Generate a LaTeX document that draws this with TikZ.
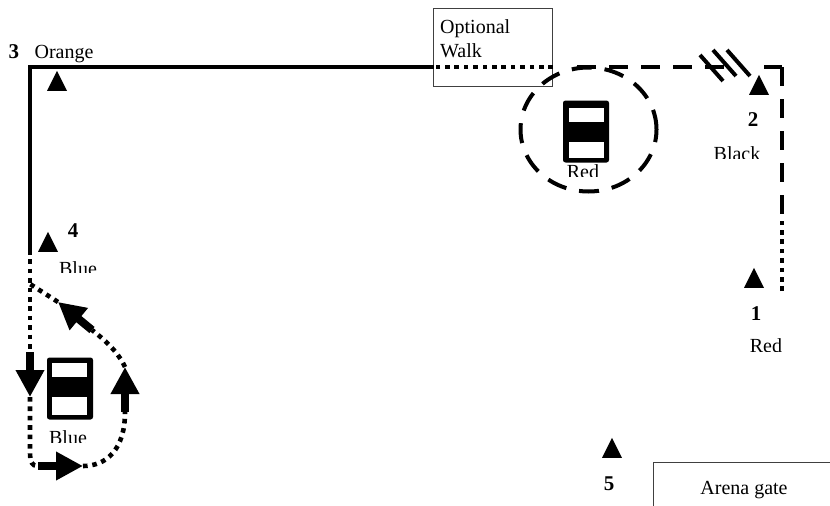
\documentclass[tikz,border=0pt]{standalone}
\usepackage{fontspec}
\setmainfont{Liberation Serif}
\usetikzlibrary{arrows.meta,shapes.geometric}
\tikzset{
  every node/.style = {font=\fontsize{20}{24}\selectfont, inner sep=0pt},
  num/.style        = {font=\fontsize{21}{23}\selectfont\bfseries},
  cono/.style       = {isosceles triangle, isosceles triangle apex angle=53,
                       isosceles triangle stretches, shape border rotate=90,
                       anchor=lower side, fill=black, minimum width=20pt,
                       minimum height=20pt},
  caja/.style       = {draw=black!75, line width=1.2pt, anchor=north west},
  auto/.style       = {fill=black, rounded corners=2.5pt, minimum width=46pt,
                       minimum height=62pt},
  ventana/.style    = {fill=white, minimum width=35pt},
  solido/.style     = {line width=4.5pt},
  puntos/.style     = {line width=4.6pt, dash pattern=on 4.6pt off 4.8pt},
  rayas/.style      = {line width=4.6pt, dash pattern=on 18.5pt off 13.5pt},
  flecha/.style     = {line width=8pt, -{Triangle[length=27pt,width=27pt]}},
}
\begin{document}
\begin{tikzpicture}[x=1pt,y=-1pt]
\useasboundingbox (0,0) rectangle (830,506);

% ---- optional walk and gate
\node[caja, minimum width=119pt, minimum height=78pt] (opcion) at (433,8) {};
\node[anchor=north west, align=left] (optexto) at (440,19) {Optional\\Walk};
\node[caja, minimum width=190pt, minimum height=60pt] (puerta) at (653,462) {};
\node (puertatexto) at (744,490) {Arena gate};

% ---- course
\coordinate (p1) at (782,291);
\coordinate (p2) at (782,221);
\coordinate (p3) at (782,214);
\coordinate (p4) at (782,67);
\coordinate (p5) at (758,67);
\coordinate (p6) at (725,67);
\coordinate (p7) at (577,67);
\coordinate (p8) at (553,67);
\coordinate (p9) at (434,67);
\coordinate (p10) at (30,67);
\coordinate (p11) at (30,250);
\coordinate (p12) at (30,352);
\coordinate (p13) at (30,397);
\coordinate (p14) at (38,466);
\coordinate (p15) at (83,466);
\coordinate (p16) at (125,412);
\coordinate (p17) at (125,367);
\coordinate (p18) at (92,330);
\coordinate (p19) at (58,302);
\coordinate (p20) at (30,284);

\draw[puntos] (p1) -- (p2);
\draw[rayas] (p4) -- (p3);
\draw[rayas] (p4) -- (p5);
\draw[rayas] (p7) -- (p6);
\draw[puntos] (p8) -- (p9);
\draw[solido] (p9) -- (p10) -- (p11);
\draw[puntos] (p11) -- (p12);
\draw[flecha] (p12) -- (p13);
\draw[puntos] (p13) -- (30,452) .. controls (30,462) and (32,466) .. (p14);
\draw[flecha] (p14) -- (p15);
\draw[puntos] (p15) .. controls (106,466) and (125,450) .. (p16);
\draw[flecha] (p16) -- (p17);
\draw[puntos] (p17) .. controls (118,352) and (106,341) .. (p18);
\draw[flecha] (p18) -- (p19);
\draw[puntos] (p19) -- (p20);

% ---- slashes
\foreach \x/\y in {700/55,713/50,727/50}
  \draw[line width=4pt] (\x,\y) -- ++(23,26);

% ---- circle
\node[ellipse, draw, line width=4pt, dash pattern=on 20pt off 13pt,
      minimum width=136pt, minimum height=124pt] (giro) at (588.5,129.5) {};

% ---- cars
\node[auto] (autorojo) at (586,131.5) {};
\node[ventana, minimum height=14pt] (vr1) at (586.5,115) {};
\node[ventana, minimum height=16pt] (vr2) at (586.5,150) {};
\node[auto] (autoazul) at (70,388.5) {};
\node[ventana, minimum height=14pt] (va1) at (69.5,370) {};
\node[ventana, minimum height=18pt] (va2) at (69.5,406) {};

% ---- cones
\foreach \n/\x/\y in {c1/754/288,c2/759/95,c3/57/91,c4/48/252,c5/612/458}
  \node[cono] (\n) at (\x,\y) {};

\node[num] (n1) at (756,314) {1};
\node[num] (n2) at (753,120) {2};
\node[num] (n3) at (14,52) {3};
\node[num] (n4) at (73,231) {4};
\node[num] (n5) at (609,484) {5};

\node (l3) at (64,54) {Orange};

% ---- the lower edge of these labels is cut off
\begin{scope}
\clip (700,140) rectangle (775,158.5) (740,330) rectangle (790,351.5)
      (50,255) rectangle (105,272.5) (560,163) rectangle (605,176.5)
      (40,425) rectangle (95,442);
\node (l1) at (766,346) {Red};
\node (l2) at (737,154) {Black};
\node (l4) at (78,268.5) {Blue};
\node (l5) at (583,171.5) {Red};
\node (l6) at (68,437.5) {Blue};
\end{scope}
\end{tikzpicture}
\end{document}
